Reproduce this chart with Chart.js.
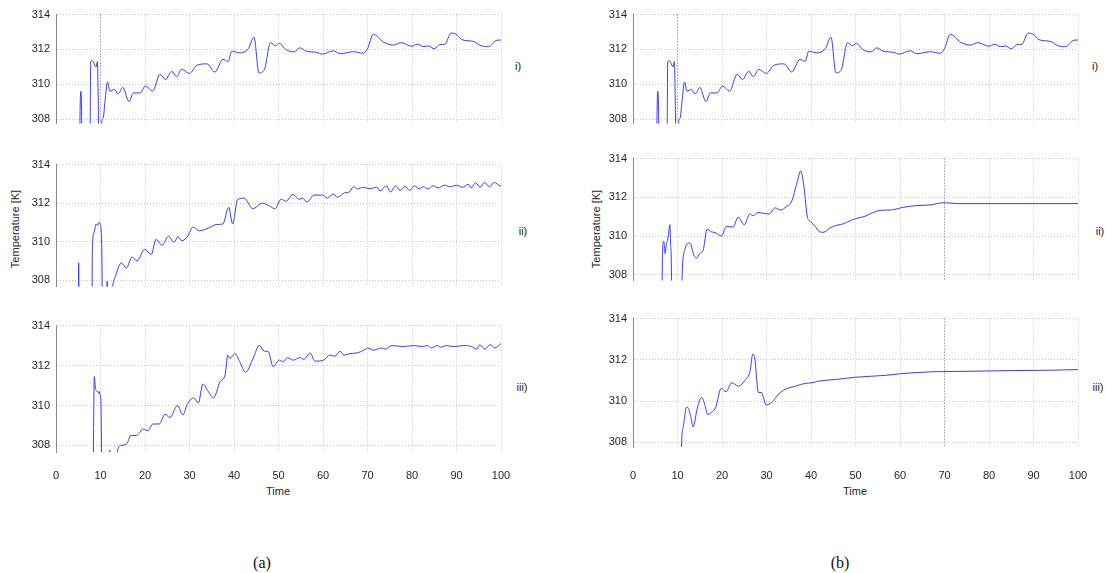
<!DOCTYPE html>
<html>
<head>
<meta charset="utf-8">
<script src="https://cdn.jsdelivr.net/npm/chart.js@4.4.0/dist/chart.umd.min.js"></script>
<style>
body { margin:0; background:#fff; width:1106px; height:573px; position:relative; overflow:hidden;
       font-family:"Liberation Sans", Arial, sans-serif; color:#262626; }
canvas { position:absolute; }
.lbl { position:absolute; font-size:11px; white-space:nowrap; transform:translate(-50%,-50%); }
.rot { transform:translate(-50%,-50%) rotate(-90deg); }
.cap { font-family:"Liberation Serif", "DejaVu Serif", serif; font-size:16px; color:#111; }
</style>
</head>
<body>
<div class="lbl rot" style="left:15px;top:229px">Temperature [K]</div>
<div class="lbl rot" style="left:596px;top:229px">Temperature [K]</div>
<div class="lbl" style="left:278px;top:491px">Time</div>
<div class="lbl" style="left:855px;top:491px">Time</div>
<div class="lbl" style="left:518px;top:66px">i)</div>
<div class="lbl" style="left:523px;top:231px">ii)</div>
<div class="lbl" style="left:522px;top:387px">iii)</div>
<div class="lbl" style="left:1095px;top:66px">i)</div>
<div class="lbl" style="left:1100px;top:231px">ii)</div>
<div class="lbl" style="left:1098px;top:387px">iii)</div>
<div class="lbl cap" style="left:262px;top:563px">(a)</div>
<div class="lbl cap" style="left:840px;top:563px">(b)</div>
<script>
// tick labels
var timeTicks = [0, 10, 20, 30, 40, 50, 60, 70, 80, 90, 100];
var tempTicks = [308, 310, 312, 314];

// (a) i) and (b) i) are the same run
var a1Time = [5.3, 5.4, 5.6, 5.75, 5.9, 7.6, 7.8, 8.2, 9.0, 9.3, 9.5, 9.7, 10.1, 10.3, 10.6, 11.0, 11.6, 12.1, 13.1, 14.0,
  15.0, 16.4, 17.4, 18.9, 20.1, 21.7, 23.4, 24.6, 26.0, 27.1, 28.2, 30.0, 31.6, 33.9, 35.7, 37.5, 38.7, 39.5, 41.3, 43.2,
  44.5, 45.6, 46.8, 48.2, 49.3, 50.2, 51.6, 53.5, 54.8, 56.2, 58.6, 59.8, 62.3, 63.8, 66.8, 69.0, 70.0, 71.3, 73.6, 75.8,
  77.5, 80.0, 81.2, 82.6, 83.7, 85.0, 86.3, 87.4, 88.8, 90.2, 91.2, 93.8, 95.5, 97.2, 99.1, 100];
var a1Temp = [305, 308.2, 309.6, 308.5, 305, 305, 311.3, 311.35, 311.0, 311.3, 309, 305, 305, 307.9, 308.05, 309.0, 310.13, 309.6, 309.7, 309.45,
  309.82, 309.0, 309.5, 309.5, 309.9, 309.6, 310.57, 310.27, 310.74, 310.43, 310.86, 310.62, 311.08, 311.17, 310.7, 311.43, 311.31, 311.9, 311.8, 312.04,
  312.7, 310.65, 310.83, 312.39, 312.21, 312.35, 312.0, 311.86, 312.09, 311.9, 311.83, 311.73, 311.92, 311.75, 311.87, 311.78, 312.04, 312.87, 312.42, 312.25,
  312.39, 312.18, 312.3, 312.16, 312.2, 312.04, 312.28, 312.3, 312.94, 312.82, 312.56, 312.46, 312.21, 312.16, 312.53, 312.54];

var a2Time = [5.0, 5.1, 5.2, 8.1, 8.15, 8.5, 9.05, 9.3, 9.65, 10.0, 10.3, 10.5, 11.3, 11.5, 11.7, 12.6, 13.5, 14.7, 15.8, 17.1,
  18.2, 19.9, 21.4, 22.5, 23.8, 25.3, 26.5, 27.4, 28.3, 29.6, 30.8, 32.2, 34.5, 36.0, 37.5, 38.8, 39.7, 40.8, 42.3, 44.2,
  46.4, 47.9, 49.2, 50.6, 51.7, 53.2, 54.7, 55.4, 56.4, 58.0, 59.9, 61.0, 62.2, 63.3, 64.8, 65.9, 66.9, 67.8, 68.9, 70.6,
  72.1, 72.8, 74.2, 75.2, 76.3, 77.3, 78.4, 79.5, 80.6, 81.6, 82.5, 83.6, 84.7, 85.9, 87.3, 88.5, 90.0, 91.4, 92.6, 93.3,
  94.3, 95.3, 96.3, 97.4, 98.5, 99.8, 100];
var a2Temp = [305, 308.9, 305, 305, 309.4, 310.45, 310.92, 310.85, 311.0, 310.84, 309.5, 305, 305, 307.95, 305, 307.5, 308.3, 308.9, 308.63, 309.2,
  309.0, 309.6, 309.34, 310.13, 309.81, 310.29, 309.97, 310.26, 310.05, 310.29, 310.76, 310.57, 310.73, 310.89, 310.92, 311.79, 310.92, 312.18, 312.26, 311.71,
  312.0, 311.87, 311.71, 312.2, 312.1, 312.45, 312.2, 312.26, 312.06, 312.42, 312.42, 312.26, 312.47, 312.31, 312.53, 312.58, 312.85, 312.74, 312.82, 312.75,
  312.83, 312.63, 312.9, 312.58, 312.9, 312.66, 312.87, 312.66, 312.9, 312.74, 312.85, 312.74, 312.9, 312.79, 312.93, 312.85, 312.93, 312.82, 312.98, 312.79,
  313.06, 312.82, 313.08, 312.85, 313.08, 312.9, 312.9];

var a3Time = [8.3, 8.45, 8.6, 8.9, 9.4, 9.6, 9.75, 9.9, 10.1, 10.25, 10.4, 11.9, 12.1, 12.3, 13.6, 13.8, 14.5, 15.9, 16.8, 18.1,
  19.6, 20.7, 21.7, 23.2, 24.5, 25.6, 27.3, 28.5, 29.5, 30.9, 32.0, 33.0, 34.2, 35.4, 36.9, 38.0, 38.6, 39.1, 40.2, 41.3,
  42.6, 44.3, 45.7, 46.8, 47.7, 48.8, 50.2, 51.1, 52.0, 53.3, 54.8, 55.7, 57.1, 58.2, 60.1, 61.6, 62.7, 63.8, 64.7, 66.1,
  67.6, 69.4, 70.0, 71.3, 73.2, 74.0, 75.4, 78.1, 80.4, 82.3, 83.4, 84.4, 85.6, 86.4, 87.7, 89.3, 91.5, 93.4, 94.5, 95.2,
  96.4, 97.6, 98.6, 100];
var a3Temp = [305, 308.9, 311.45, 310.8, 310.7, 310.6, 310.7, 310.55, 310.13, 307.5, 305, 305, 307.75, 305, 305, 307.67, 308.0, 308.08, 308.49, 308.5,
  308.82, 308.74, 309.07, 309.07, 309.56, 309.4, 310.0, 309.53, 310.05, 310.38, 310.13, 311.07, 310.71, 310.38, 311.2, 311.53, 312.52, 312.36, 312.6, 312.19,
  311.66, 312.36, 313.01, 312.72, 312.7, 311.94, 312.27, 312.19, 312.39, 312.27, 312.4, 312.31, 312.63, 312.22, 312.27, 312.52, 312.47, 312.72, 312.52, 312.6,
  312.63, 312.8, 312.88, 312.77, 312.88, 312.82, 313.0, 312.95, 313.0, 312.95, 313.0, 312.88, 313.0, 312.92, 313.0, 312.95, 313.0, 312.95, 312.82, 313.03,
  312.82, 313.05, 312.88, 313.1];

var b2Time = [6.5, 6.6, 6.9, 7.05, 7.2, 7.5, 7.9, 8.3, 8.45, 8.6, 8.75, 10.8, 11.0, 11.6, 12.75, 13.7, 14.25, 15.0, 15.75, 16.65,
  17.6, 18.6, 19.9, 21.0, 22.5, 23.6, 25.0, 26.25, 27.0, 28.1, 30.6, 31.9, 33.2, 34.5, 35.6, 36.9, 37.7, 38.4, 39.2, 39.9,
  40.9, 41.9, 42.8, 44.3, 45.8, 47.3, 49.1, 50.6, 52.1, 53.9, 55.5, 57.8, 60.8, 63.8, 66.8, 69.6, 70.5, 72.8, 100];
var b2Temp = [305, 308.7, 309.73, 309.57, 309.1, 309.57, 309.96, 310.59, 309.6, 308.79, 305, 305, 307.7, 309.26, 309.65, 309.02, 308.86, 309.1, 309.26, 310.36,
  310.23, 310.17, 310.01, 310.51, 310.47, 310.98, 310.59, 311.14, 311.06, 311.22, 311.14, 311.46, 311.35, 311.53, 311.77, 312.79, 313.37, 312.56, 310.98, 310.75,
  310.51, 310.23, 310.2, 310.43, 310.56, 310.64, 310.83, 310.94, 311.02, 311.22, 311.33, 311.35, 311.49, 311.58, 311.61, 311.72, 311.72, 311.68, 311.68];

var b3Time = [10.8, 10.9, 11.3, 12.0, 12.3, 13.0, 13.5, 14.5, 15.4, 16.0, 16.8, 17.7, 18.6, 19.8, 20.9, 22.2, 23.7, 25.3, 26.3, 26.9,
  27.3, 28.2, 28.9, 29.3, 29.9, 31.2, 32.7, 34.2, 36.5, 38.7, 40.2, 41.7, 45.5, 50.0, 56.7, 60.1, 64.2, 68.0, 72.5, 79.2,
  84.4, 94.2, 100];
var b3Temp = [305, 307.75, 308.76, 309.71, 309.7, 309.23, 308.76, 309.71, 310.18, 309.94, 309.36, 309.47, 309.71, 310.62, 310.46, 310.89, 310.73, 311.05, 311.44, 312.28,
  312.15, 310.42, 310.42, 310.18, 309.82, 309.94, 310.34, 310.57, 310.73, 310.86, 310.89, 310.97, 311.05, 311.16, 311.25, 311.33, 311.39, 311.43, 311.44, 311.46,
  311.48, 311.5, 311.53];

// plot boxes on the page (darkX = gridline that prints darker in the scan)
var panels = [
  { left: 56, right: 501, top: 12, bottom: 132, ymin: 307.75, t: a1Time, v: a1Temp, xlab: false, darkX: 10 },
  { left: 56, right: 501, top: 162, bottom: 295, ymin: 307.68, t: a2Time, v: a2Temp, xlab: false, darkX: -1 },
  { left: 56, right: 501, top: 323, bottom: 452, ymin: 307.67, t: a3Time, v: a3Temp, xlab: true, darkX: -1 },
  { left: 633, right: 1078, top: 12, bottom: 132, ymin: 307.75, t: a1Time, v: a1Temp, xlab: false, darkX: 10 },
  { left: 633, right: 1078, top: 156, bottom: 289, ymin: 307.72, t: b2Time, v: b2Temp, xlab: false, darkX: 70 },
  { left: 633, right: 1078, top: 316, bottom: 447, ymin: 307.78, t: b3Time, v: b3Temp, xlab: true, darkX: 70 }
];

// right padding must be larger than half the "100" label plus tick padding,
// otherwise chart.js shrinks the plot area
var AXW = 45, PADT = 10, PADR = 34;

panels.forEach(function (p) {
  var bottomH = p.xlab ? 40 : 4;
  var cv = document.createElement('canvas');
  cv.width = (p.right - p.left) + AXW + PADR;
  cv.height = (p.bottom - p.top) + PADT + bottomH;
  cv.style.left = (p.left - AXW) + 'px';
  cv.style.top = (p.top - PADT) + 'px';
  document.body.appendChild(cv);

  var pts = [];
  for (var i = 0; i < p.t.length; i++) pts.push({ x: p.t[i], y: p.v[i] });

  new Chart(cv, {
    type: 'line',
    data: {
      datasets: [{
        data: pts,
        borderColor: '#3a3aff',
        borderWidth: 1,
        pointRadius: 0,
        fill: false,
        cubicInterpolationMode: 'monotone'
      }]
    },
    options: {
      responsive: false,
      animation: false,
      events: [],
      layout: { padding: { left: 0, top: PADT, right: PADR, bottom: 0 } },
      plugins: { legend: { display: false }, tooltip: { enabled: false } },
      scales: {
        x: {
          type: 'linear', min: 0, max: 100,
          afterBuildTicks: function (s) { s.ticks = timeTicks.map(function (v) { return { value: v }; }); },
          afterFit: function (s) { s.height = bottomH; },
          grid: {
            color: function (c) { return c.tick && c.tick.value === p.darkX ? '#6a6a6a' : '#c4c4c4'; },
            lineWidth: 1, drawTicks: false
          },
          border: { display: false, dash: [1, 2] },
          ticks: {
            display: p.xlab, maxRotation: 0, autoSkip: false,
            padding: 476 - 6.6 - p.bottom,
            color: '#262626', font: { family: 'Liberation Sans', size: 11 }
          }
        },
        y: {
          min: p.ymin, max: 314,
          afterBuildTicks: function (s) { s.ticks = tempTicks.map(function (v) { return { value: v }; }); },
          afterFit: function (s) { s.width = AXW; },
          grid: { color: '#c4c4c4', lineWidth: 1, drawTicks: false },
          border: { display: true, color: '#8a8a8a', width: 1, dash: [1, 2] },
          ticks: {
            padding: 6, autoSkip: false,
            color: '#262626', font: { family: 'Liberation Sans', size: 11 }
          }
        }
      }
    }
  });
});
</script>
</body>
</html>
